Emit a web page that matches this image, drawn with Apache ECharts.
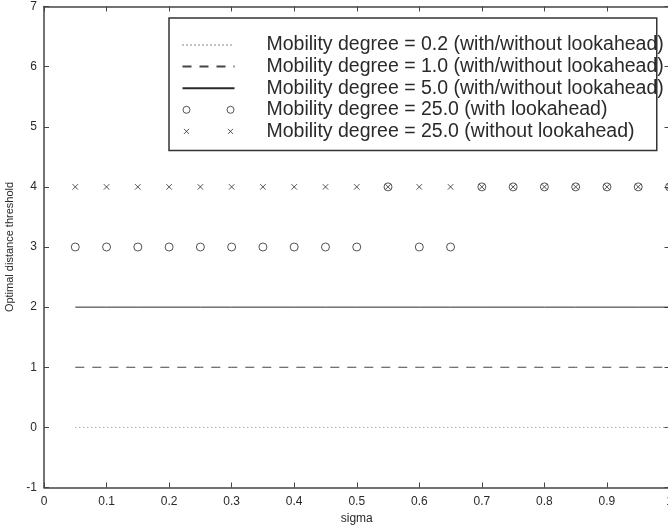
<!DOCTYPE html>
<html><head><meta charset="utf-8">
<script src="https://cdn.jsdelivr.net/npm/echarts@6/dist/echarts.min.js"></script>
<style>html,body{margin:0;padding:0;background:#fff}#c{width:668px;height:527px}</style>
</head><body><div id="c"></div>
<script>
const sigma = [0.05,0.10,0.15,0.20,0.25,0.30,0.35,0.40,0.45,0.50,0.55,0.60,0.65,0.70,0.75,0.80,0.85,0.90,0.95,1.00];
const mob02 = [0,0,0,0,0,0,0,0,0,0,0,0,0,0,0,0,0,0,0,0];
const mob10 = [1,1,1,1,1,1,1,1,1,1,1,1,1,1,1,1,1,1,1,1];
const mob50 = [2,2,2,2,2,2,2,2,2,2,2,2,2,2,2,2,2,2,2,2];
const mob25With = [3,3,3,3,3,3,3,3,3,3,4,3,3,4,4,4,4,4,4,4];
const mob25Without = [4,4,4,4,4,4,4,4,4,4,4,4,4,4,4,4,4,4,4,4];
const names = [
  'Mobility degree = 0.2 (with/without lookahead)',
  'Mobility degree = 1.0 (with/without lookahead)',
  'Mobility degree = 5.0 (with/without lookahead)',
  'Mobility degree = 25.0 (with lookahead)',
  'Mobility degree = 25.0 (without lookahead)'
];
const xTicks = ['0','0.1','0.2','0.3','0.4','0.5','0.6','0.7','0.8','0.9','1'];

const pair = (ys) => sigma.map((x, i) => [x, ys[i]]);
const ink = '#2a2a2a';
const crossPath = 'path://M0,0L10,10M10,0L0,10';
// legend icons: bbox padded to 52x12 by zero-length segments so nothing is stretched
const twoCircles = 'path://M0,0L0,0M52,12L52,12M0.5,6A3.5,3.5 0 1,0 7.5,6A3.5,3.5 0 1,0 0.5,6ZM44.5,6A3.5,3.5 0 1,0 51.5,6A3.5,3.5 0 1,0 44.5,6Z';
const twoCrosses = 'path://M0,0L0,0M52,12L52,12M1.5,3.5L6.5,8.5M6.5,3.5L1.5,8.5M45.5,3.5L50.5,8.5M50.5,3.5L45.5,8.5';

const chart = echarts.init(document.getElementById('c'));
const axisLine = {show: true, onZero: false, lineStyle: {color: '#444', width: 1.5}};
const tick = {show: true, inside: true, length: 5, lineStyle: {color: '#444', width: 1}};
const hideSym = {opacity: 0};
chart.setOption({
  animation: false,
  textStyle: {fontFamily: 'Liberation Sans, Arial, sans-serif'},
  grid: {left: 44, width: 625.5, top: 6.5, height: 481, containLabel: false, outerBoundsMode: 'none'},
  xAxis: [
    {type: 'value', min: 0, max: 1, interval: 0.1, position: 'bottom',
     axisLine, axisTick: tick, splitLine: {show: false},
     axisLabel: {color: ink, fontSize: 12, margin: 8, hideOverlap: false,
       formatter: v => xTicks[Math.round(v * 10)]},
     name: 'sigma', nameLocation: 'middle', nameGap: 24,
     nameTextStyle: {color: ink, fontSize: 12}},
    {type: 'value', min: 0, max: 1, interval: 0.1, position: 'top',
     axisLine, axisTick: tick, splitLine: {show: false}, axisLabel: {show: false}}
  ],
  yAxis: [
    {type: 'value', min: -1, max: 7, interval: 1, position: 'left',
     axisLine, axisTick: tick, splitLine: {show: false},
     axisLabel: {color: ink, fontSize: 12, margin: 7},
     name: 'Optimal distance threshold', nameLocation: 'middle', nameGap: 26,
     nameTextStyle: {color: ink, fontSize: 11}},
    {type: 'value', min: -1, max: 7, interval: 1, position: 'right',
     axisLine, axisTick: tick, splitLine: {show: false}, axisLabel: {show: false}}
  ],
  legend: {
    orient: 'vertical', left: 169, top: 18,
    padding: [17, -7, 9, 11],
    itemGap: 1.6, itemWidth: 52, itemHeight: 12,
    borderColor: '#333', borderWidth: 1.5, backgroundColor: '#fff',
    textStyle: {color: ink, fontSize: 19.5, lineHeight: 20, padding: [0, 0, 0, 27],
      fontFamily: 'Liberation Sans, Arial, sans-serif'},
    data: [
      {name: names[0], itemStyle: hideSym},
      {name: names[1], itemStyle: hideSym},
      {name: names[2], itemStyle: hideSym},
      {name: names[3], icon: twoCircles, itemStyle: {color: 'none', borderColor: ink, borderWidth: 1}},
      {name: names[4], icon: twoCrosses, itemStyle: {color: 'none', borderColor: ink, borderWidth: 1}}
    ]
  },
  series: [
    {name: names[0], type: 'line', data: pair(mob02), symbol: 'none', color: '#777',
     lineStyle: {color: '#888', width: 1, type: [1, 3]}},
    {name: names[1], type: 'line', data: pair(mob10), symbol: 'none', color: ink,
     lineStyle: {color: '#444', width: 1, type: [9, 8]}},
    {name: names[2], type: 'line', data: pair(mob50), symbol: 'none', color: ink,
     lineStyle: {color: ink, width: 1, type: 'solid'}},
    {name: names[3], type: 'scatter', data: pair(mob25With), symbol: 'circle', symbolSize: 8,
     itemStyle: {color: 'none', borderColor: ink, borderWidth: 1}},
    {name: names[4], type: 'scatter', data: pair(mob25Without), symbol: crossPath, symbolSize: 5.5,
     itemStyle: {color: 'none', borderColor: ink, borderWidth: 1}}
  ]
});
</script></body></html>
